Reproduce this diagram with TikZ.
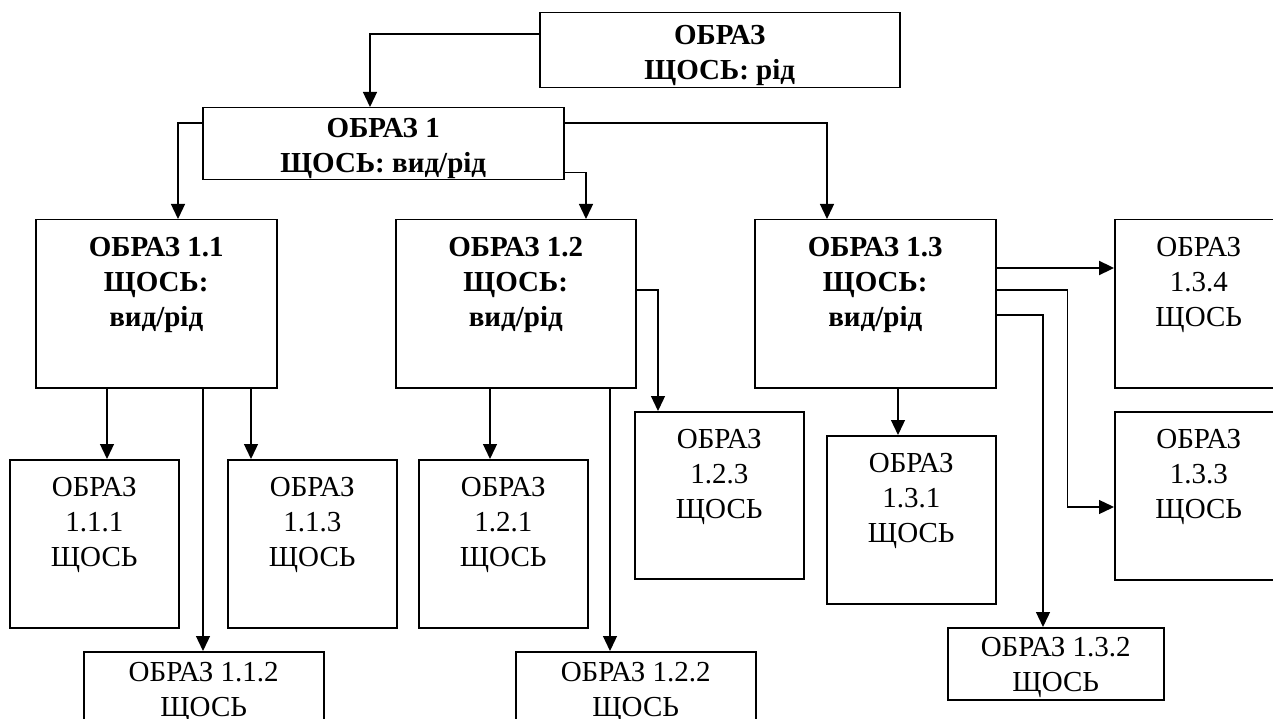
\documentclass[tikz,border=0pt]{standalone}
\usepackage{fontspec}
\setmainfont{Liberation Serif}
\usetikzlibrary{arrows.meta}
\newcommand{\bxt}[4]{\parbox[c][#2][t]{#1}{\centering\vspace*{#3}#4}}
\tikzset{
  box/.style={draw, line width=1.5pt, inner sep=0pt, anchor=north west, font=\fontsize{29}{35}\selectfont},
  boxb/.style={box, font=\fontsize{29}{35}\selectfont\bfseries},
  conn/.style={line width=1.3pt, -{Triangle[length=15pt,width=14pt]}},
  connb/.style={conn, line width=2.2pt}
}
\begin{document}
\begin{tikzpicture}[x=1pt,y=-1pt]
\useasboundingbox (0,0) rectangle (1273,719);
% level 0 and 1
\node[boxb] (top) at (539,12) {\bxt{360pt}{75pt}{13pt}{ОБРАЗ\\ЩОСЬ: рід}};
\node[boxb] (obr1) at (202,107) {\bxt{361pt}{72pt}{11pt}{ОБРАЗ 1\\ЩОСЬ: вид/рід}};
% level 2
\node[boxb] (b11) at (35,219) {\bxt{241pt}{168pt}{18pt}{ОБРАЗ 1.1\\ЩОСЬ:\\вид/рід}};
\node[boxb] (b12) at (395,219) {\bxt{240pt}{168pt}{18pt}{ОБРАЗ 1.2\\ЩОСЬ:\\вид/рід}};
\node[boxb] (b13) at (754,219) {\bxt{241pt}{168pt}{18pt}{ОБРАЗ 1.3\\ЩОСЬ:\\вид/рід}};
% level 3
\node[box] (b111) at (9,459) {\bxt{169pt}{168pt}{18pt}{ОБРАЗ\\1.1.1\\ЩОСЬ}};
\node[box] (b113) at (227,459) {\bxt{169pt}{168pt}{18pt}{ОБРАЗ\\1.1.3\\ЩОСЬ}};
\node[box] (b121) at (418,459) {\bxt{169pt}{168pt}{18pt}{ОБРАЗ\\1.2.1\\ЩОСЬ}};
\node[box] (b123) at (634,411) {\bxt{169pt}{167pt}{18pt}{ОБРАЗ\\1.2.3\\ЩОСЬ}};
\node[box] (b131) at (826,435) {\bxt{169pt}{168pt}{18pt}{ОБРАЗ\\1.3.1\\ЩОСЬ}};
\node[box] (b134) at (1114,219) {\bxt{168pt}{168pt}{18pt}{ОБРАЗ\\1.3.4\\ЩОСЬ}};
\node[box] (b133) at (1114,411) {\bxt{168pt}{168pt}{18pt}{ОБРАЗ\\1.3.3\\ЩОСЬ}};
\node[box] (b112) at (83,651) {\bxt{240pt}{100pt}{11pt}{ОБРАЗ 1.1.2\\ЩОСЬ}};
\node[box] (b122) at (515,651) {\bxt{240pt}{100pt}{11pt}{ОБРАЗ 1.2.2\\ЩОСЬ}};
\node[box] (b132) at (947,627) {\bxt{216pt}{72pt}{10pt}{ОБРАЗ 1.3.2\\ЩОСЬ}};
% connectors
\draw[conn] ([yshift=-22pt]top.north west) -| ([xshift=168pt]obr1.north west);
\draw[conn] ([yshift=-16pt]obr1.north west) -| ([xshift=143pt]b11.north west);
\draw[conn] ([yshift=-16pt]obr1.north east) -| ([xshift=73pt]b13.north west);
\draw[conn] ([yshift=8pt]obr1.south east) -| ([xshift=191pt]b12.north west);
\draw[conn] ([xshift=72pt]b11.south west) -- ([xshift=72pt]b11.south west |- b111.north);
\draw[conn] ([xshift=168pt]b11.south west) -- ([xshift=168pt]b11.south west |- b112.north);
\draw[conn] ([xshift=216pt]b11.south west) -- ([xshift=216pt]b11.south west |- b113.north);
\draw[conn] ([xshift=95pt]b12.south west) -- ([xshift=95pt]b12.south west |- b121.north);
\draw[conn] ([xshift=215pt]b12.south west) -- ([xshift=215pt]b12.south west |- b122.north);
\draw[conn] ([yshift=-71pt]b12.north east) -| ([xshift=24pt]b123.north west);
\draw[conn] ([xshift=144pt]b13.south west) -- ([xshift=144pt]b13.south west |- b131.north);
\draw[connb] ([yshift=-49pt]b13.north east) -- ([yshift=-49pt]b13.north east -| b134.west);
\draw[conn] ([yshift=-71pt]b13.north east) -- ++(71pt,0) |- ([yshift=-96pt]b133.north west);
\draw[conn] ([yshift=-96pt]b13.north east) -| ([xshift=96pt]b132.north west);
\end{tikzpicture}
\end{document}
